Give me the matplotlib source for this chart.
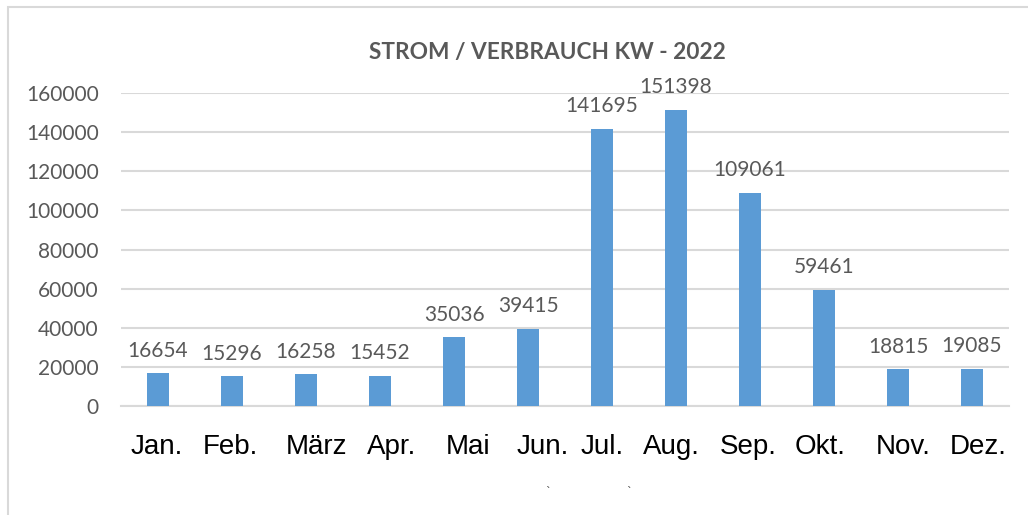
import matplotlib

matplotlib.use("Agg")
import matplotlib.pyplot as plt
from matplotlib import patches
from matplotlib.transforms import ScaledTranslation

# monthly power consumption 2022
months = ["Jan.", "Feb.", "März", "Apr.", "Mai", "Jun.", "Jul.", "Aug.",
          "Sep.", "Okt.", "Nov.", "Dez."]
consumption = [16654, 15296, 16258, 15452, 35036, 39415, 141695, 151398,
               109061, 59461, 18815, 19085]
y_ticks = [0, 20000, 40000, 60000, 80000, 100000, 120000, 140000, 160000]

# the month labels in the original sit a little off their bars (pixels)
label_shift = [-1, -1.5, 10.5, 11.5, 14, 14.5, 0, -4.5, -2, -3.5, 5.5, 6.5]

BAR_COLOR = "#5B9BD5"
TEXT_GRAY = "#595959"
GRID_GRAY = "#D9D9D9"

fig = plt.figure(figsize=(10.28, 5.15), dpi=100)
ax = fig.add_axes([121 / 1028, 1 - 406 / 515, 888 / 1028, (406 - 93) / 515])

x = range(len(months))
bars = ax.bar(x, consumption, width=0.31, color=BAR_COLOR, zorder=3)

# value labels above the bars
for rect, value in zip(bars, consumption):
    ax.annotate(f"{value}", (rect.get_x() + rect.get_width() / 2, rect.get_height()),
                xytext=(0, 9), textcoords="offset points", ha="center", va="bottom",
                fontsize=15, color=TEXT_GRAY, family="Lato")

ax.set_xlim(-0.5, len(months) - 0.5)
ax.set_ylim(0, 160000)
ax.set_yticks(y_ticks)
ax.set_yticklabels([str(t) for t in y_ticks], fontsize=15, color=TEXT_GRAY, family="Lato")
ax.set_xticks(list(x))
ax.set_xticklabels(months, fontsize=20, color="black", family="Liberation Sans")
ax.tick_params(axis="y", length=0, pad=16)
ax.tick_params(axis="x", length=0, pad=20)

for label, shift in zip(ax.get_xticklabels(), label_shift):
    label.set_transform(label.get_transform()
                        + ScaledTranslation(shift / fig.dpi, 0, fig.dpi_scale_trans))

ax.grid(axis="y", color=GRID_GRAY, linewidth=1.5, zorder=0)
for side in ["top", "right", "left"]:
    ax.spines[side].set_visible(False)
ax.spines["bottom"].set_color(GRID_GRAY)
ax.spines["bottom"].set_linewidth(1.5)

fig.text(547 / 1028, 1 - 53 / 515, "STROM / VERBRAUCH KW - 2022", ha="center",
         va="center", fontsize=16.3, fontweight="bold", color=TEXT_GRAY, family="Lato")

# stray marks below the chart
fig.text(548 / 1028, 1 - 492 / 515, "`", ha="center", va="center", fontsize=8, color="#404040")
fig.text(629 / 1028, 1 - 492 / 515, "`", ha="center", va="center", fontsize=8, color="#404040")

# chart area frame
frame = patches.Rectangle((8 / 1028, -0.1), 1.2, 1.1 - 7 / 515, transform=fig.transFigure,
                          fill=False, edgecolor=GRID_GRAY, linewidth=1.5)
fig.patches.append(frame)

fig.savefig("out.png", dpi=100)
